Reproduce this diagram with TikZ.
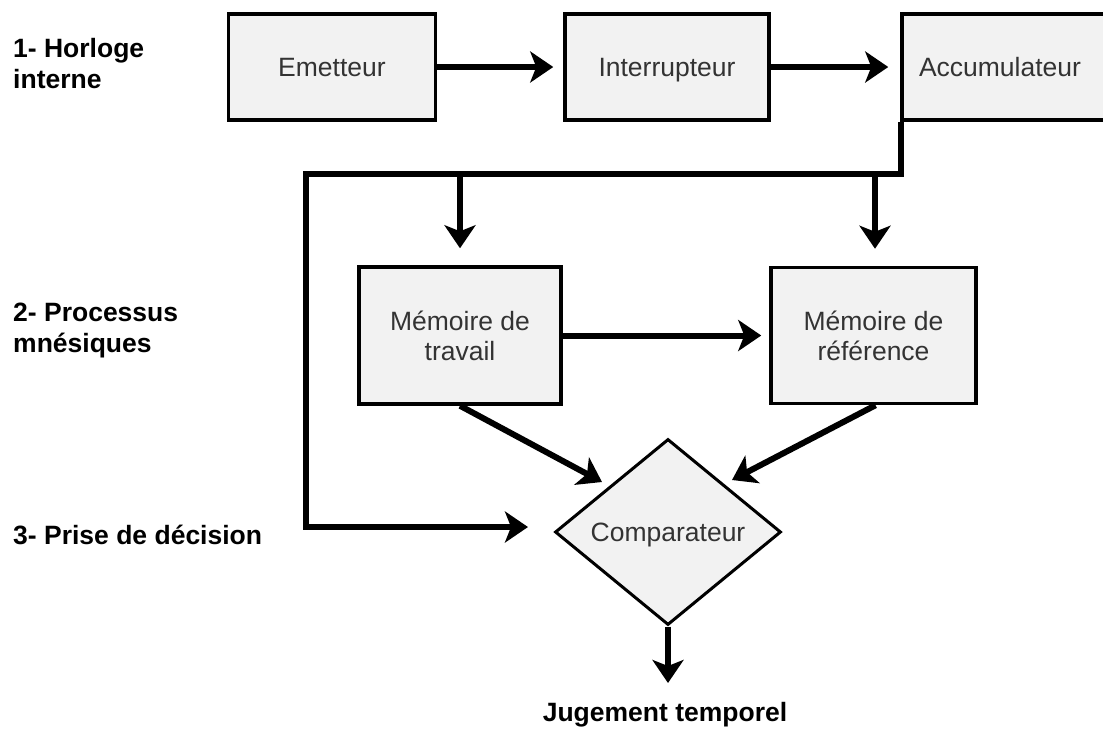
\documentclass[tikz,border=0pt]{standalone}
\usepackage{fontspec}
\setmainfont{Liberation Sans}
\usetikzlibrary{arrows.meta,shapes.geometric}
\definecolor{boxfill}{HTML}{F2F2F2}
\definecolor{textgray}{HTML}{333333}
\begin{document}
\begin{tikzpicture}[x=1pt,y=-1pt,
  box/.style={draw=black,line width=3.5pt,fill=boxfill,inner sep=0pt,align=center,
    text=textgray,font=\fontsize{26.5}{30}\selectfont},
  oneline/.style={text height=19pt,text depth=0pt},
  cmpbox/.style={diamond,draw=black,line width=3pt,fill=boxfill,inner sep=0pt,
    minimum width=226pt,minimum height=186pt,text=textgray,font=\fontsize{26.5}{30}\selectfont,
    text height=19pt,text depth=0pt},
  lbl/.style={anchor=west,align=left,inner sep=0pt,font=\bfseries\fontsize{26.5}{31}\selectfont},
  wire/.style={line width=6pt,line join=miter},
  arr/.style={line width=6pt,line join=miter,-{Stealth[length=23pt,width=31pt,inset=6pt]}}
]
\useasboundingbox (0,0) rectangle (1103,729);

% labels
\node[lbl] (l1) at (13,64) {1- Horloge\\interne};
\node[lbl] (l2) at (13,330) {2- Processus\\mnésiques};
\node[lbl] (l3) at (13,535) {3- Prise de décision};

% boxes
\node[box,oneline,minimum width=207pt,minimum height=106pt] (em) at (332,67) {Emetteur};
\node[box,oneline,minimum width=204pt,minimum height=106pt] (in) at (667,67) {Interrupteur};
\node[box,oneline,minimum width=210pt,minimum height=106pt] (acc) at (1007,67) {\hspace*{-14pt}Accumulateur};
\node[box,minimum width=202pt,minimum height=137pt] (mt) at (460,335.5) {Mémoire de\\travail};
\node[box,minimum width=205pt,minimum height=136pt] (mr) at (873.5,335.5) {Mémoire de\\référence};
\node[cmpbox] (cmp) at (668,532) {Comparateur};
\node[inner sep=0pt,font=\bfseries\fontsize{26.5}{30}\selectfont] (jt) at (665,715) {Jugement temporel};

% coordinates
\coordinate (hl) at (306,174);
\coordinate (cl) at (306,527);
\coordinate (t3) at (528,527);
\coordinate (b1) at (460,174);
\coordinate (b2) at (875,174);
\coordinate (t1) at (602,482);
\coordinate (t2) at (732,480);
\coordinate (t4) at (668,683);

% connectors
\draw[arr,shorten >=10pt] (em.east) -- (in.west);
\draw[arr,shorten >=12pt] (in.east) -- (acc.west);
\draw[arr] ([xshift=1pt]acc.south west) |- (hl) -- (cl) -- (t3);
\draw[arr,shorten >=17pt] (b1) -- (mt.north);
\draw[arr,shorten >=17pt] (b2) -- (b2 |- mr.north);
\draw[arr,shorten >=8pt] (mt.east) -- (mr.west);
\draw[arr] (mt.south) -- (t1);
\draw[arr] ([xshift=2pt]mr.south) -- (t2);
\draw[arr] (cmp.south) -- (t4);
\end{tikzpicture}
\end{document}
